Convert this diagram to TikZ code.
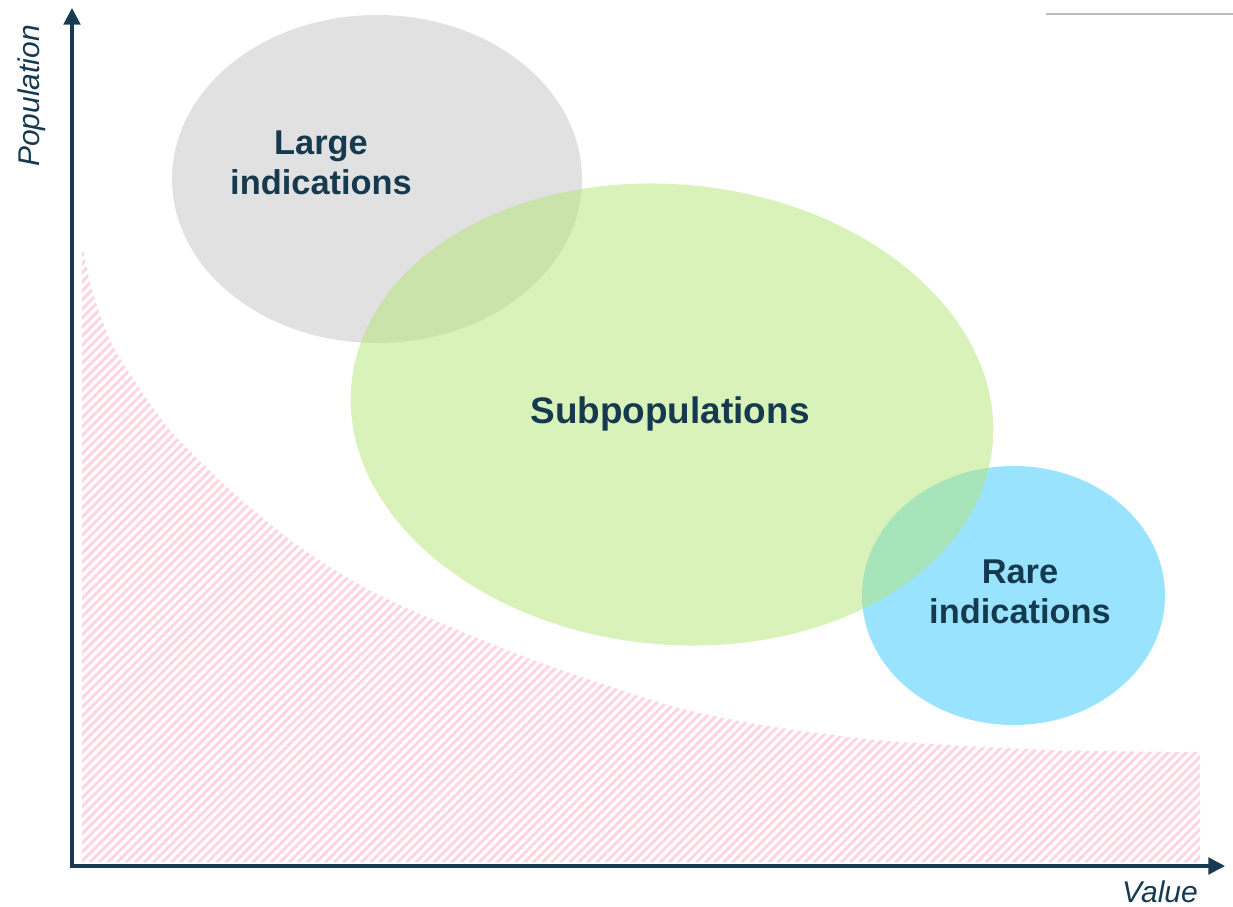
\documentclass[tikz,border=0pt]{standalone}
\usepackage{fontspec}
\setmainfont{Liberation Sans}
\usetikzlibrary{arrows.meta,patterns.meta,shapes.geometric}
\definecolor{navy}{RGB}{22,59,82}
\definecolor{txt}{RGB}{21,58,80}
\definecolor{grayell}{RGB}{225,225,225}
\definecolor{greenell}{RGB}{183,230,123}
\definecolor{blueell}{RGB}{153,227,255}
\definecolor{hatchpink}{RGB}{255,212,224}
\definecolor{rulegray}{RGB}{189,189,189}
\tikzset{
  blob/.style={ellipse, inner sep=0pt, draw=none},
  biglabel/.style={text=txt, font=\bfseries\fontsize{25.8}{30}\selectfont, align=center, inner sep=0pt},
  axislabel/.style={text=txt, font=\itshape\fontsize{22.5}{26}\selectfont, inner sep=0pt},
  axisline/.style={draw=navy, line width=2.4pt, {Triangle[length=12.5pt,width=12.5pt]}-{Triangle[length=12.5pt,width=12.5pt]}},
}
\begin{document}
\begin{tikzpicture}[x=0.75pt,y=-0.75pt]
\useasboundingbox (0,0) rectangle (1233,907);
% hatched area
\fill[pattern={Lines[angle=45,distance=4.8pt,line width=2.2pt]}, pattern color=hatchpink]
  (82,862) -- plot[smooth, tension=0.5] coordinates {(82,245) (92,290) (110,340) (132,377) (170,430) (227,487) (293,542) (360,585) (427,617) (525,657) (600,683) (675,707) (750,723) (825,734) (900,742) (1050,750) (1200,752)} -- (1200,862) -- cycle;
% ellipses
\node[blob, fill=grayell, minimum width=307.5pt, minimum height=246pt] (large) at (377,179) {};
\node[blob, fill=blueell, minimum width=227.25pt, minimum height=194.25pt] (rare) at (1013.5,595.5) {};
\node[blob, fill=greenell, fill opacity=0.53, minimum width=483pt, minimum height=345pt, rotate=-5.5] (sub) at (672,414.5) {};
% labels
\node[biglabel] (largetxt) at (321,163) {Large\\indications};
\node[biglabel, font=\bfseries\fontsize{27.7}{32}\selectfont] (subtxt) at (670,414) {Subpopulations};
\node[biglabel] (raretxt) at (1020,592) {Rare\\indications};
% axes
\coordinate (ytip) at (72,8);
\coordinate (orig) at (72,866);
\coordinate (xtip) at (1225,866);
\draw[axisline] (ytip) -- (orig) -- (xtip);
\node[axislabel, rotate=90] (ylab) at (32,96) {Population};
\node[axislabel] (xlab) at (1160,892) {Value};
% top-right rule
\coordinate (r1) at (1046,14);
\coordinate (r2) at (1233,14);
\draw[rulegray, line width=1.4pt] (r1) -- (r2);
\end{tikzpicture}
\end{document}
